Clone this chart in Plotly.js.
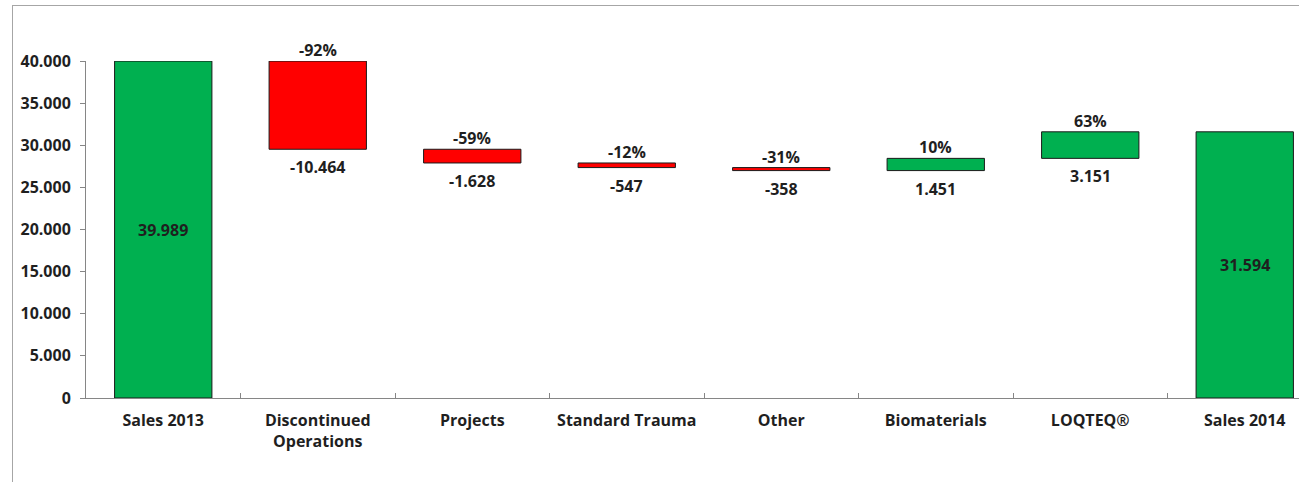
<!DOCTYPE html>
<html>
<head>
<meta charset="utf-8">
<script src="https://cdn.plot.ly/plotly-3.0.1.min.js"></script>
<style>
  html, body { margin: 0; padding: 0; background: #ffffff; }
  #wrap { position: relative; width: 1299px; height: 482px; overflow: hidden; }
  #chart { position: absolute; left: 0; top: 0; width: 1322px; height: 482px; }
  #frame { position: absolute; left: 12px; top: 5px; right: 0; bottom: 0;
           border-left: 1px solid #a6a6a6; border-top: 1px solid #a6a6a6; pointer-events: none; }
</style>
</head>
<body>
<div id="wrap">
  <div id="chart"></div>
  <div id="frame"></div>
</div>
<script>
// ---- data ----
const categories = ["Sales 2013", "Discontinued<br>Operations", "Projects", "Standard Trauma",
                    "Other", "Biomaterials", "LOQTEQ®", "Sales 2014"];
const values   = [39989, -10464, -1628, -547, -358, 1451, 3151, 31594];
const measures = ["absolute", "relative", "relative", "relative", "relative", "relative", "relative", "total"];
const pctLabels = ["", "-92%", "-59%", "-12%", "-31%", "10%", "63%", ""];
const yTickVals = [0, 5000, 10000, 15000, 20000, 25000, 30000, 35000, 40000];

// ---- styles ----
const FONT = "Open Sans, sans-serif";
const FS = 16;
const TXT = "#1f1f1f";
const GREEN = "#00B050";
const RED = "#FF0000";
const AXIS = "#868686";

function fmt(v) {
  const s = Math.abs(v).toString().replace(/\B(?=(\d{3})+(?!\d))/g, ".");
  return (v < 0 ? "-" : "") + s;
}

const labelFont = {family: FONT, size: FS, color: TXT, weight: "bold"};

// annotations derived from data
const annotations = [];
let running = 0;
for (let i = 0; i < categories.length; i++) {
  const m = measures[i];
  if (m === "absolute" || m === "total") {
    const total = m === "absolute" ? values[i] : running;
    running = total;
    annotations.push({
      x: categories[i], y: total / 2, xref: "x", yref: "y",
      text: fmt(values[i]), showarrow: false, yanchor: "middle",
      font: labelFont
    });
  } else {
    const start = running;
    const end = running + values[i];
    running = end;
    const top = Math.max(start, end), bottom = Math.min(start, end);
    annotations.push({
      x: categories[i], y: top, xref: "x", yref: "y",
      text: pctLabels[i], showarrow: false, yanchor: "bottom", yshift: -2,
      font: labelFont
    });
    annotations.push({
      x: categories[i], y: bottom, xref: "x", yref: "y",
      text: fmt(values[i]), showarrow: false, yanchor: "top", yshift: -5,
      font: labelFont
    });
  }
}

const trace = {
  type: "waterfall",
  x: categories,
  y: values,
  measure: measures,
  textinfo: "none",
  hoverinfo: "none",
  connector: {visible: false},
  increasing: {marker: {color: GREEN, line: {color: "#1a1a1a", width: 1}}},
  decreasing: {marker: {color: RED, line: {color: "#1a1a1a", width: 1}}},
  totals: {marker: {color: GREEN, line: {color: "#1a1a1a", width: 1}}}
};

const layout = {
  width: 1322, height: 482,
  margin: {l: 86, r: 0, t: 61, b: 84},
  paper_bgcolor: "rgba(0,0,0,0)",
  plot_bgcolor: "rgba(0,0,0,0)",
  separators: ",.",
  showlegend: false,
  waterfallgap: 0.37,
  font: {family: FONT, size: FS, color: TXT},
  xaxis: {
    type: "category",
    showline: true, linecolor: AXIS, linewidth: 1,
    ticks: "inside", tickson: "boundaries", ticklen: 5, tickcolor: AXIS,
    showgrid: false, zeroline: false, fixedrange: true,
    ticklabelstandoff: 8,
    tickfont: labelFont
  },
  yaxis: {
    range: [0, 40000],
    tickvals: yTickVals,
    tickformat: ",d",
    showline: true, linecolor: AXIS, linewidth: 1,
    ticks: "outside", ticklen: 5, tickcolor: AXIS,
    showgrid: false, zeroline: false, fixedrange: true,
    ticklabelstandoff: 6,
    tickfont: labelFont
  },
  annotations: annotations
};

Plotly.newPlot("chart", [trace], layout, {displayModeBar: false, staticPlot: true});
</script>
</body>
</html>
